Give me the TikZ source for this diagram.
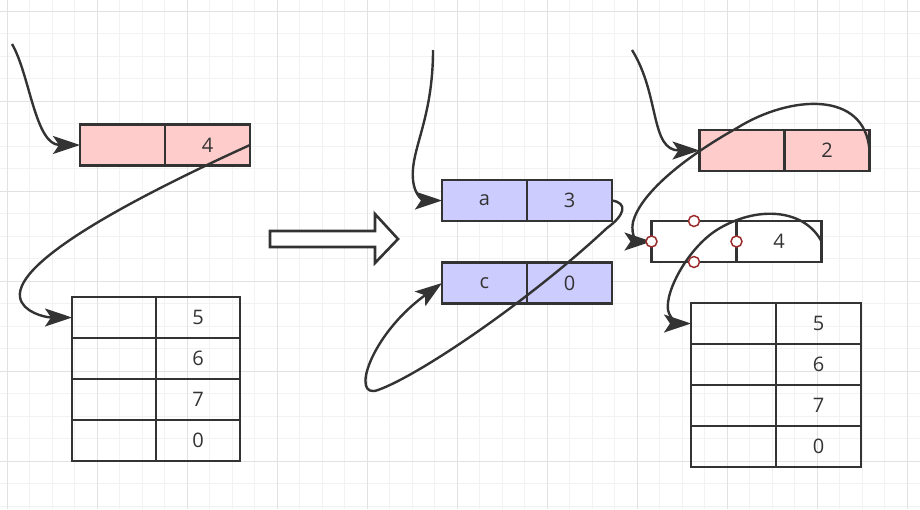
\documentclass[tikz,border=0pt]{standalone}
\usepackage{fontspec}
\setmainfont{Open Sans}
\usetikzlibrary{positioning,arrows.meta}
\definecolor{linegray}{HTML}{333333}
\definecolor{cellpink}{HTML}{FFCCCC}
\definecolor{cellblue}{HTML}{CCCCFF}
\definecolor{gridminor}{HTML}{F2F2F2}
\definecolor{gridmajor}{HTML}{E2E2E2}
\definecolor{pointred}{HTML}{9B2C2C}
\tikzset{cell/.style={rectangle,draw=linegray,line width=2.8pt,minimum width=85pt,minimum height=41pt,inner sep=0pt,outer sep=0pt,text=linegray,font=\fontsize{20}{23}\selectfont}}
\tikzset{link/.style={draw=linegray,line width=2.4pt,-{Stealth[length=27pt,width=18pt,inset=6pt]}}}
\tikzset{hook/.style={circle,draw=pointred,fill=white,line width=1.5pt,inner sep=0pt,minimum size=11pt}}

\begin{document}
\begin{tikzpicture}[x=1pt,y=-1pt]
\useasboundingbox (0,0) rectangle (920,509);

% background grid
\foreach \gx in {0,...,40} \draw[gridminor,line width=1pt] ({7+22.5*\gx},0) -- ({7+22.5*\gx},509);
\foreach \gy in {0,...,22} \draw[gridminor,line width=1pt] (0,{11+22.5*\gy}) -- (920,{11+22.5*\gy});
\foreach \gx in {0,...,10} \draw[gridmajor,line width=1pt] ({7+90*\gx},0) -- ({7+90*\gx},509);
\foreach \gy in {0,...,5} \draw[gridmajor,line width=1pt] (0,{11+90*\gy}) -- (920,{11+90*\gy});

% left pink box
\node[cell,fill=cellpink] at (122.5,145) (lp1) {};
\node[cell,fill=cellpink,right=0pt of lp1] (lp2) {4};

% left table
\node[cell,minimum width=84pt] at (114,317.5) (lt1) {};
\node[cell,minimum width=84pt,right=0pt of lt1] (lt1v) {5};
\node[cell,minimum width=84pt,below=0pt of lt1] (lt2) {};
\node[cell,minimum width=84pt,right=0pt of lt2] (lt2v) {6};
\node[cell,minimum width=84pt,below=0pt of lt2] (lt3) {};
\node[cell,minimum width=84pt,right=0pt of lt3] (lt3v) {7};
\node[cell,minimum width=84pt,below=0pt of lt3] (lt4) {};
\node[cell,minimum width=84pt,right=0pt of lt4] (lt4v) {0};

% middle boxes a/3 and c/0
\node[cell,fill=cellblue] at (484.5,200.5) (ma1) {a};
\node[cell,fill=cellblue,right=0pt of ma1] (ma2) {3};
\node[cell,fill=cellblue] at (484.5,283) (mc1) {c};
\node[cell,fill=cellblue,right=0pt of mc1] (mc2) {0};

% right pink box and white box
\node[cell,fill=cellpink] at (742,150.5) (rp1) {};
\node[cell,fill=cellpink,right=0pt of rp1] (rp2) {2};
\node[cell,fill=white] at (694,241.5) (wb1) {};
\node[cell,fill=white,right=0pt of wb1] (wb2) {4};

% right table
\node[cell] at (733.5,323.5) (rt1) {};
\node[cell,right=0pt of rt1] (rt1v) {5};
\node[cell,below=0pt of rt1] (rt2) {};
\node[cell,right=0pt of rt2] (rt2v) {6};
\node[cell,below=0pt of rt2] (rt3) {};
\node[cell,right=0pt of rt3] (rt3v) {7};
\node[cell,below=0pt of rt3] (rt4) {};
\node[cell,right=0pt of rt4] (rt4v) {0};

% free ends of the incoming pointers
\coordinate (lhead) at (12,44);
\coordinate (mhead) at (433,50);
\coordinate (rhead) at (632,50);

% left pointers
\draw[link] (lhead) .. controls (30,75) and (35,145) .. (lp1.west);
\draw[link] (lp2.east) .. controls (140,195) and (15,260) .. (20,297)
  .. controls (22,312) and (45,317.5) .. (lt1.west);

% hollow arrow between the states
\draw[draw=linegray,line width=2.6pt,fill=white] (270,231) -- (375,231) -- (375,214) -- (398,239)
  -- (375,263) -- (375,247) -- (270,247) -- cycle;

% middle pointers
\draw[link] (mhead) .. controls (433,120) and (410,150) .. (413,180)
  .. controls (415,198) and (425,200.5) .. (ma1.west);
\draw[link] (ma2.east) .. controls (628,203) and (625,215) .. (607,228)
  .. controls (530,300) and (420,375) .. (378,390)
  .. controls (350,400) and (370,335) .. (mc1.west);

% right pointers
\draw[link] (rhead) .. controls (660,95) and (650,150.5) .. (rp1.west);
\draw[link] (rp2.east) .. controls (865,90) and (790,95) .. (737,128)
  .. controls (680,160) and (640,195) .. (633,222)
  .. controls (630,238) and (640,241.5) .. (wb1.west);
\draw[link] (wb2.east) .. controls (805,210) and (760,205) .. (720,228)
  .. controls (690,245) and (665,290) .. (668,310)
  .. controls (670,320) and (680,323.5) .. (rt1.west);

% connection points on the selected box
\node[hook] at (wb1.west) (hw) {};
\node[hook] at (wb1.north) (hn) {};
\node[hook] at (wb1.east) (he) {};
\node[hook] at (wb1.south) (hs) {};

\end{tikzpicture}
\end{document}
